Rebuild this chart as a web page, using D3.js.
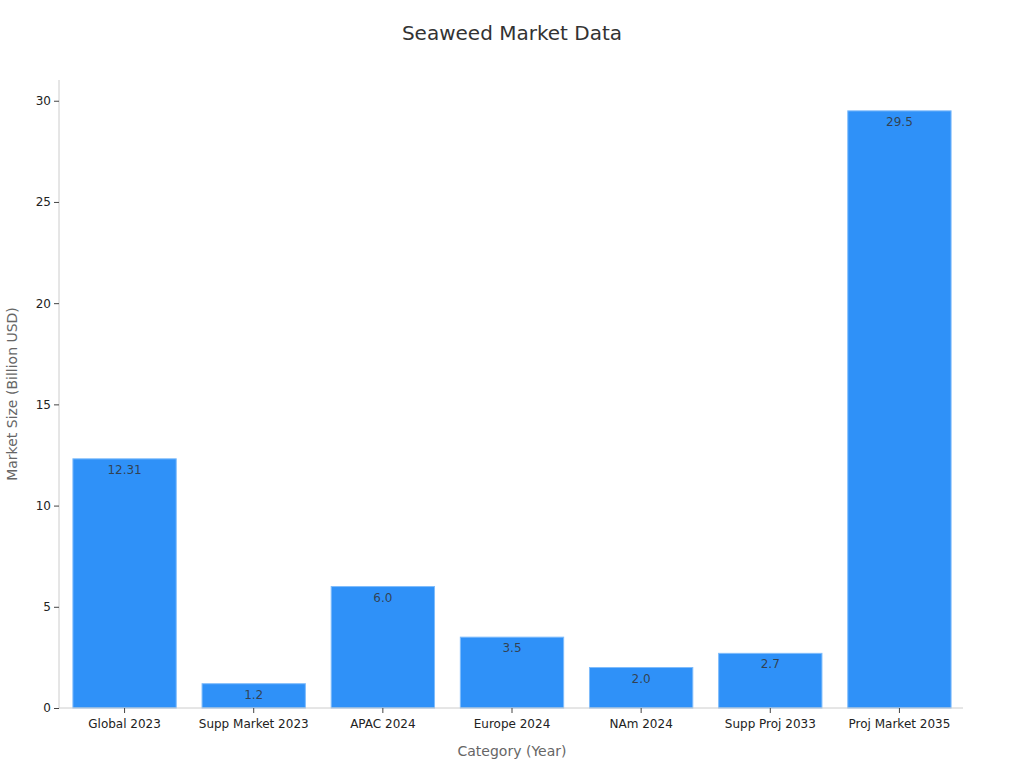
<!DOCTYPE html>
<html><head><meta charset="utf-8">
<script src="https://cdn.jsdelivr.net/npm/d3@7"></script>
<style>body{margin:0;background:#fff;font-family:"DejaVu Sans",sans-serif}</style>
</head><body><svg id="c" width="1024" height="768"></svg>
<script>
const categories = ["Global 2023","Supp Market 2023","APAC 2024","Europe 2024","NAm 2024","Supp Proj 2033","Proj Market 2035"];
const values = [12.31, 1.2, 6.0, 3.5, 2.0, 2.7, 29.5];
const valueLabels = ["12.31","1.2","6.0","3.5","2.0","2.7","29.5"];
const yTicks = [0,5,10,15,20,25,30];

const svg = d3.select("#c");
const m = {l:59, r:963, t:81, b:708};
const x = d3.scaleBand().domain(categories).range([m.l+1, m.r+1]).paddingInner(0.2).paddingOuter(0.1);
const y = d3.scaleLinear().domain([0, 29.5*1.05]).range([m.b, m.t]);

svg.append("text").attr("x",512).attr("y",40).attr("text-anchor","middle")
  .attr("font-size",20).attr("fill","#333").text("Seaweed Market Data");

svg.append("g").selectAll("rect").data(values).join("rect")
  .attr("x",(d,i)=>x(categories[i])).attr("width",x.bandwidth())
  .attr("y",d=>y(d)).attr("height",d=>m.b-y(d))
  .attr("fill","#2f91f8").attr("stroke","#7fbcfb").attr("stroke-width",1);

svg.append("g").selectAll("text").data(values).join("text")
  .attr("x",(d,i)=>x(categories[i])+x.bandwidth()/2).attr("y",d=>y(d)+15)
  .attr("text-anchor","middle").attr("font-size",12).attr("fill","#333").attr("fill-opacity",0.85)
  .text((d,i)=>valueLabels[i]);

const ya = svg.append("g").attr("transform",`translate(${m.l},0)`)
  .call(d3.axisLeft(y).tickValues(yTicks).tickSize(5).tickPadding(3).tickFormat(d3.format("d")));
ya.select(".domain").attr("stroke","#ccc").attr("d",`M0,80V${m.b}`);
ya.selectAll(".tick line").attr("stroke","#444");
ya.selectAll(".tick text").attr("font-size",12).attr("fill","#222").attr("font-family","DejaVu Sans");

const xa = svg.append("g").attr("transform",`translate(0,${m.b})`)
  .call(d3.axisBottom(x).tickSize(5).tickPadding(6));
xa.select(".domain").attr("stroke","#ccc").attr("d",`M${m.l},0H${m.r}`);
xa.selectAll(".tick line").attr("stroke","#444");
xa.selectAll(".tick text").attr("font-size",12).attr("fill","#222").attr("font-family","DejaVu Sans");

svg.append("text").attr("x",512).attr("y",756).attr("text-anchor","middle")
  .attr("font-size",14).attr("fill","#666").text("Category (Year)");
svg.append("text").attr("transform","translate(17,394) rotate(-90)").attr("text-anchor","middle")
  .attr("font-size",14).attr("fill","#666").text("Market Size (Billion USD)");
</script></body></html>
